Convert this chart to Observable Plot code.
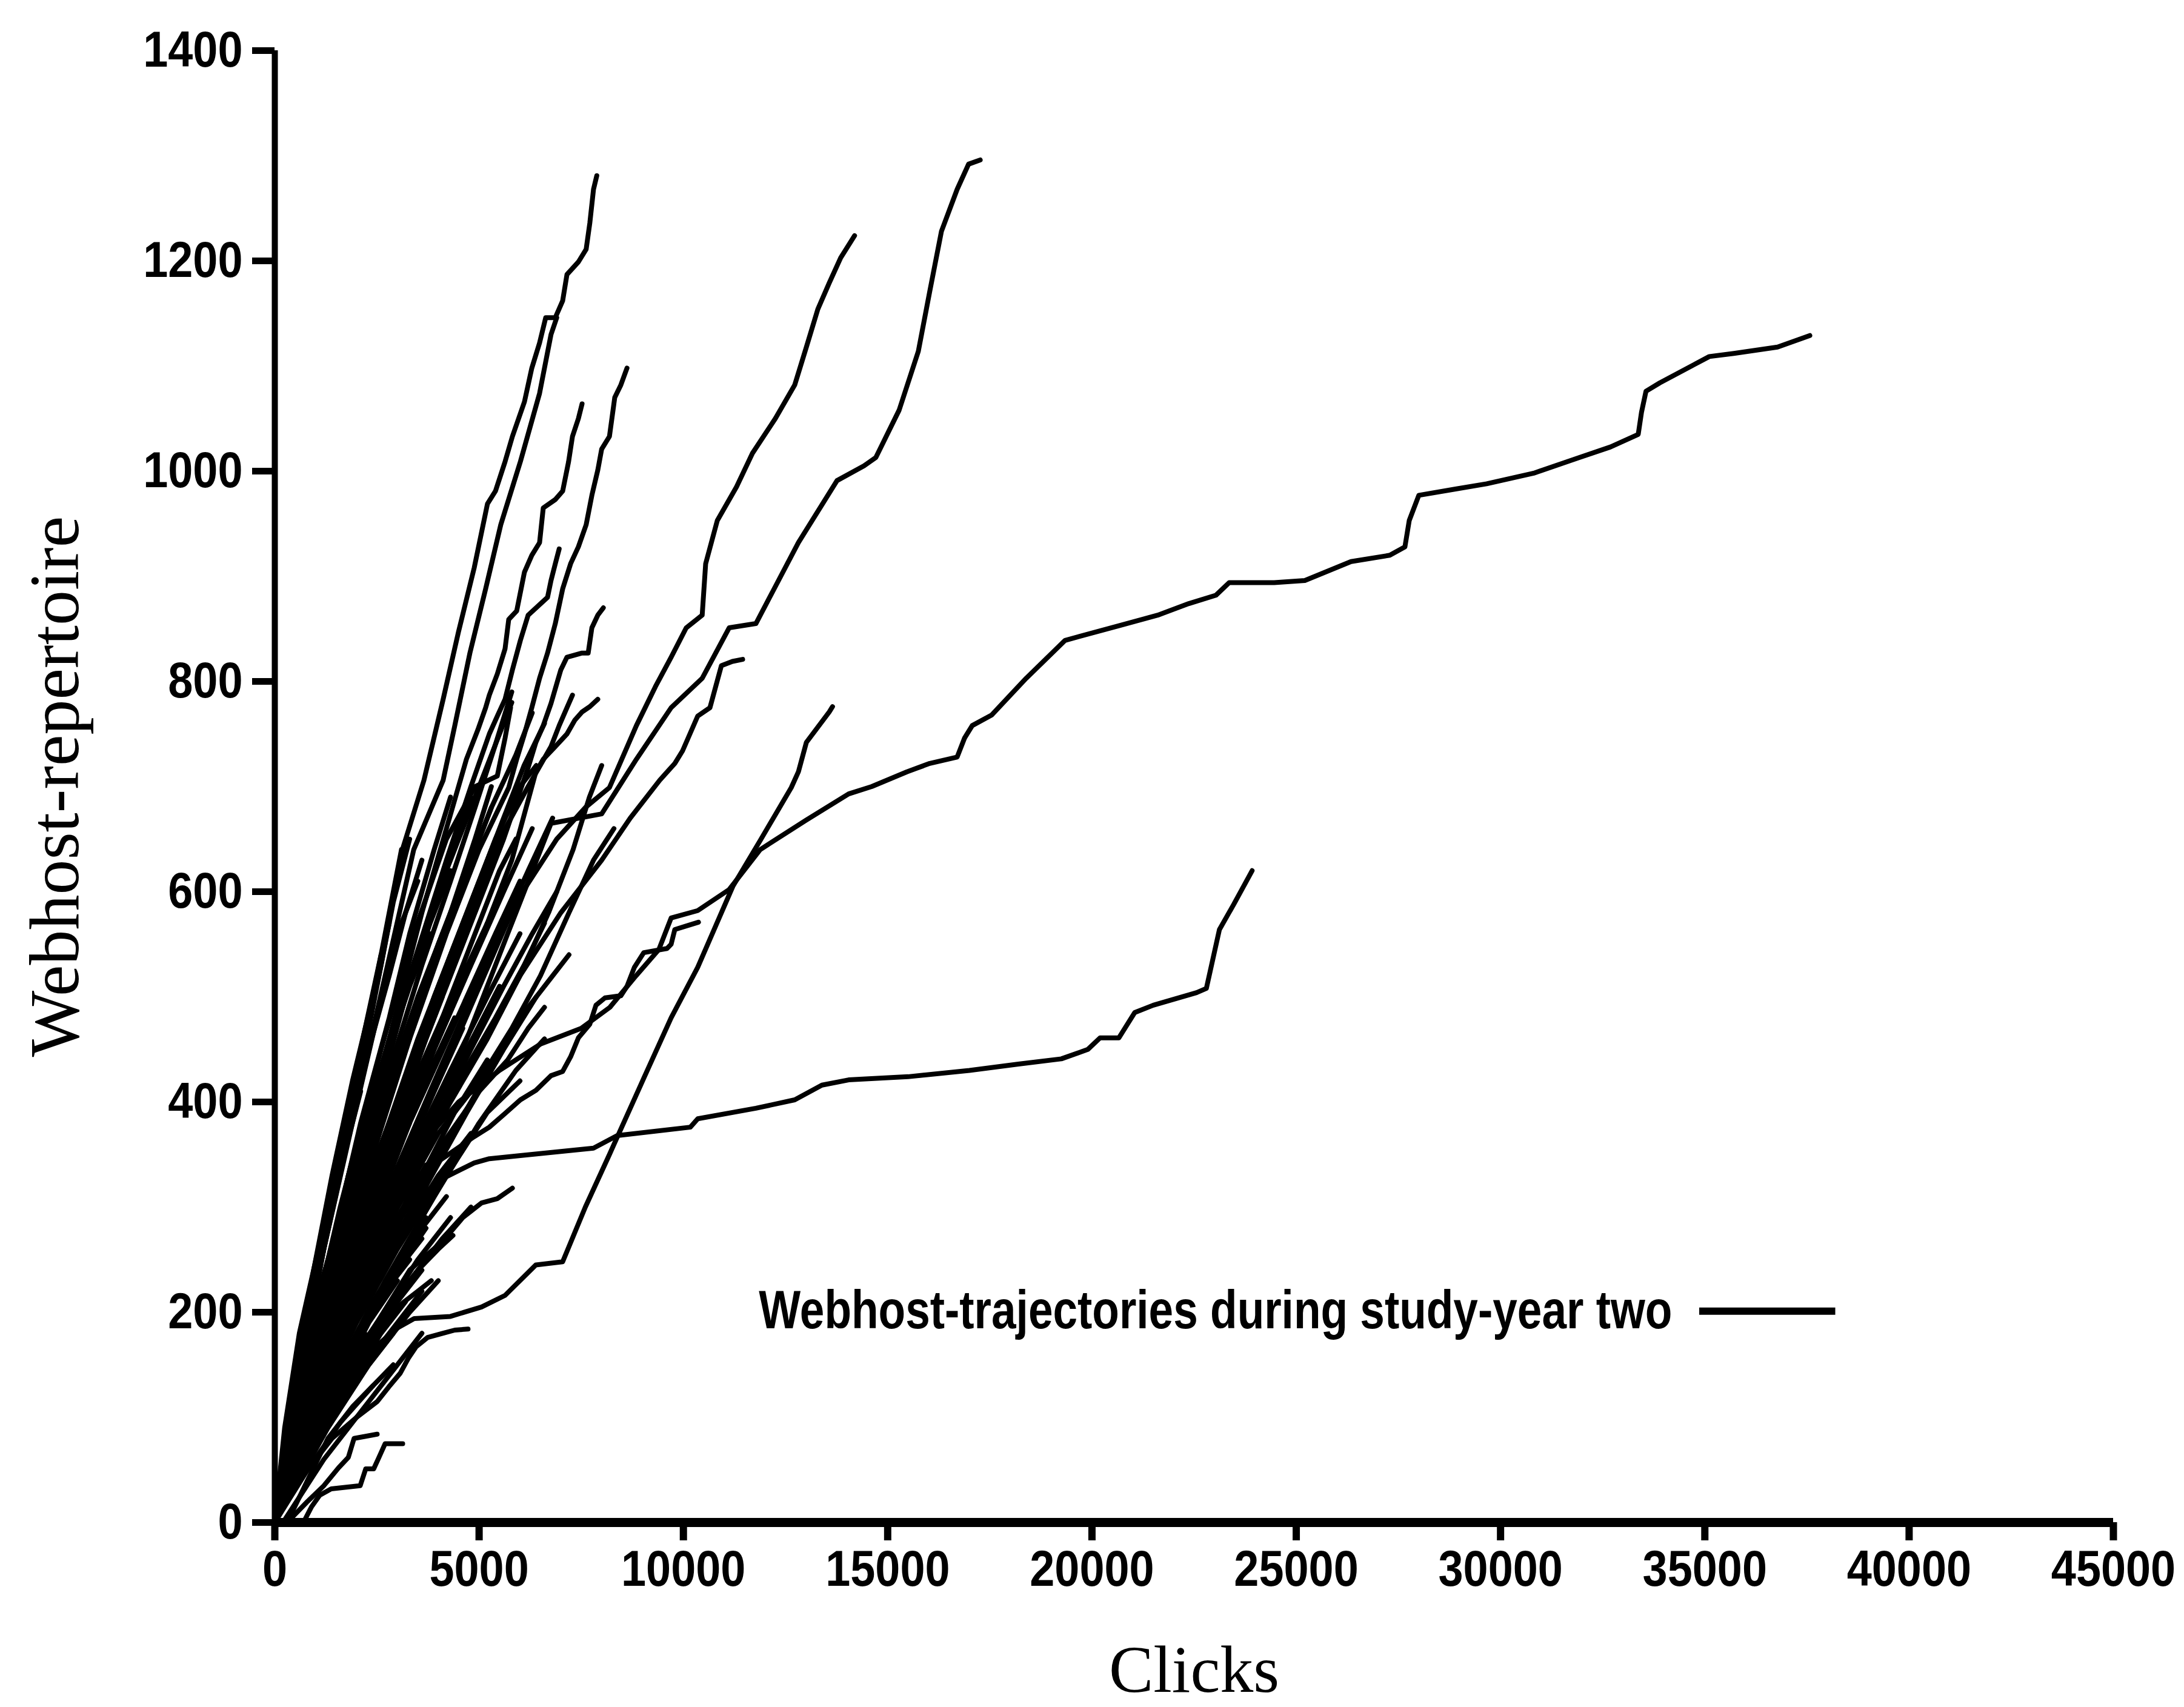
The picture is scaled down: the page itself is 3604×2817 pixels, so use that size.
<!DOCTYPE html>
<html>
<head>
<meta charset="utf-8">
<script src="https://cdn.jsdelivr.net/npm/d3@7"></script>
<script src="https://cdn.jsdelivr.net/npm/@observablehq/plot@0.6"></script>
<style>
  html, body { margin: 0; padding: 0; background: #fff; }
  #chart svg { display: block; }
</style>
</head>
<body>
<div id="chart"></div>
<script>
// Axis ticks
const xTicks = [0, 5000, 10000, 15000, 20000, 25000, 30000, 35000, 40000, 45000];
const yTicks = [0, 200, 400, 600, 800, 1000, 1200, 1400];

const xTitle = "Clicks";
const yTitle = "Webhost-repertoire";
const legendLabel = "Webhost-trajectories during study-year two";

// Each trajectory is a flat list of (clicks, repertoire) pairs.
// Long-running users that leave the main bundle.
const longRuns = [
  [0,0, 900,120, 1800,220, 2700,300, 3600,360, 4500,400, 5500,430, 6500,455, 7500,470, 8200,490, 8840,520, 9400,545, 9700,575, 10350,582, 11120,602, 11880,640, 13000,668, 14045,693, 14610,700, 15470,714, 16030,722, 16700,728, 16880,746, 17070,758, 17545,768, 18390,803, 19340,839, 20660,853, 21610,863, 22370,874, 23035,882, 23360,894, 24460,894, 25210,896, 26340,914, 27290,920, 27660,928, 27765,953, 28000,977, 28900,983, 29660,988, 30810,998, 31930,1013, 32690,1023, 33370,1035, 33450,1056, 33560,1076, 33900,1084, 35110,1109, 35710,1112, 36780,1118, 37570,1129],
  [0,0, 800,90, 1700,180, 2700,280, 3700,370, 4700,460, 5700,560, 6760,665, 8000,674, 8850,726, 9700,775, 10460,803, 11120,851, 11775,855, 12815,932, 13760,991, 14420,1005, 14710,1013, 15280,1058, 15750,1114, 16030,1171, 16315,1228, 16700,1268, 16980,1292, 17265,1296],
  [0,0, 900,110, 1900,220, 2900,320, 3900,410, 4900,500, 5900,590, 6900,650, 7600,680, 8190,699, 8850,758, 9315,795, 9700,823, 10070,851, 10460,863, 10545,912, 10830,953, 11300,985, 11690,1017, 12250,1050, 12725,1082, 13010,1118, 13290,1154, 13570,1179, 13850,1203, 14190,1224],
  [0,0, 1000,110, 2000,210, 3000,300, 4000,380, 5000,450, 6000,520, 7000,580, 8000,630, 8700,670, 9420,706, 9790,722, 9980,734, 10350,767, 10650,775, 10930,815, 11200,819, 11450,821],
  [0,0, 1000,120, 2000,220, 3000,290, 4000,325, 4880,342, 5250,346, 6010,349, 7800,356, 8380,368, 10170,376, 10350,384, 11775,394, 12725,402, 13390,416, 14045,421, 15500,424, 17000,430, 18200,436, 19250,441, 19900,450, 20200,461, 20660,461, 21045,485, 21500,492, 22560,504, 22800,508, 23120,564, 23500,590, 23920,620],
  [0,0, 800,100, 1600,190, 2500,270, 3500,330, 4880,367, 5250,376, 5635,389, 6010,402, 6390,411, 6760,425, 7045,429, 7240,443, 7430,461, 7710,474, 7860,492, 8080,499, 8470,501, 8620,510, 8800,528, 9030,542, 9600,546, 9700,550, 9790,564, 10370,571],
  [0,0, 800,65, 1600,120, 2400,165, 3000,185, 3410,194, 4300,196, 5060,205, 5635,216, 6390,245, 7045,248, 7600,300, 8190,350, 9000,420, 9700,480, 10350,528, 11210,605, 11900,650, 12640,699, 12815,714, 13010,742, 13570,771, 13650,776]
];

// Fast growers that climb past 700 hosts within a few thousand clicks.
const upperFan = [
  [0,0, 240,90, 600,180, 1215,286, 2000,420, 2600,530, 3130,641, 3650,706, 4120,783, 4495,847, 4880,908, 5205,969, 5400,981, 5635,1009, 5815,1033, 6110,1066, 6290,1098, 6480,1122, 6630,1146, 6865,1146, 7045,1162, 7150,1187, 7430,1199, 7620,1211, 7710,1236, 7800,1268, 7880,1281],
  [0,0, 300,90, 700,170, 1300,280, 2000,400, 2700,520, 3400,640, 4120,706, 4405,758, 4775,827, 5160,888, 5530,949, 6010,1009, 6480,1074, 6760,1130, 6900,1146],
  [0,0, 600,110, 1300,230, 2000,340, 2800,460, 3600,580, 4200,660, 4690,726, 4970,754, 5160,775, 5250,787, 5445,807, 5635,831, 5725,859, 5920,867, 6110,904, 6290,920, 6480,932, 6570,965, 6865,973, 7045,981, 7190,1009, 7285,1033, 7430,1050, 7520,1064],
  [0,0, 700,110, 1500,230, 2400,350, 3300,460, 4200,560, 5000,640, 5725,699, 5920,726, 6110,750, 6290,775, 6480,803, 6675,827, 6865,855, 7045,888, 7240,912, 7430,928, 7620,949, 7760,977, 7905,1001, 8000,1021, 8190,1033, 8320,1070, 8470,1082, 8620,1098],
  [0,0, 700,120, 1500,250, 2400,390, 3300,520, 4200,630, 4800,700, 5250,750, 5445,767, 5635,783, 5815,811, 6010,839, 6200,863, 6675,880, 6760,896, 6865,912, 6960,926],
  [0,0, 800,110, 1700,230, 2700,350, 3700,460, 4700,560, 5600,650, 6200,718, 6390,742, 6570,758, 6760,779, 6910,799, 7000,811, 7150,823, 7520,827, 7670,827, 7760,851, 7905,863, 8040,870],
  [0,0, 900,120, 1900,240, 2900,350, 3900,450, 4900,540, 5800,630, 6390,714, 6570,726, 6865,738, 7150,750, 7340,763, 7520,771, 7710,776, 7905,783],
  [0,0, 500,100, 1100,210, 1800,330, 2600,450, 3400,560, 4200,650, 4900,700, 5445,710, 5635,746, 5770,775],
  [0,0, 800,110, 1700,230, 2600,340, 3600,450, 4600,560, 5500,650, 6200,700, 6760,738, 6960,758, 7150,775, 7285,787],
  [0,0, 1000,120, 2000,220, 3000,300, 4000,370, 5000,420, 5800,470, 6500,520, 7200,580, 7800,630, 8300,660],
  [0,0, 1100,130, 2200,240, 3300,330, 4300,400, 5200,460, 6000,520, 6700,580, 7300,640, 7700,690, 8000,720],
  [0,0, 900,110, 1900,210, 2900,300, 3900,380, 4800,450, 5600,510, 6300,560, 6900,600],
  [0,0, 1000,110, 2000,200, 3100,290, 4100,360, 5000,410, 5700,440, 6200,470, 6600,490]
];

// The dense bundle: steeper users.
const steepFan = [
  [0,0, 400,110, 900,210, 1500,330, 2100,450, 2600,540],
  [0,0, 300,80, 800,190, 1400,310, 2000,420, 2700,560, 3100,640],
  [0,0, 500,120, 1100,250, 1700,360, 2300,470, 2900,590, 3300,650],
  [0,0, 350,90, 700,170, 1200,260, 1600,330],
  [0,0, 600,140, 1200,260, 1900,380, 2500,480, 3000,560, 3500,610],
  [0,0, 450,100, 1000,200, 1600,300, 2200,390],
  [0,0, 500,110, 1000,200, 1500,280, 2100,380, 2800,480, 3300,560, 3900,640, 4300,690],
  [0,0, 700,140, 1300,240, 2000,340, 2700,440, 3400,530, 4000,600, 4500,660, 4800,690],
  [0,0, 300,60, 800,150, 1300,230, 1800,300, 2300,350],
  [0,0, 600,110, 1200,210, 1800,300, 2500,400, 3200,500, 3800,570, 4300,620],
  [0,0, 500,90, 1100,180, 1700,260, 2400,350, 3100,440, 3700,510],
  [0,0, 800,140, 1500,240, 2200,330, 2900,420, 3600,500, 4300,580, 4900,650, 5300,700],
  [0,0, 400,70, 1000,160, 1600,240, 2300,320, 3000,400, 3700,470, 4400,540, 5000,600],
  [0,0, 700,110, 1400,200, 2100,290, 2800,370, 3500,440, 4100,500],
  [0,0, 600,90, 1300,180, 2000,260, 2700,340, 3400,410, 4100,480, 4800,550, 5500,620, 5900,650],
  [0,0, 900,130, 1700,230, 2500,320, 3300,400, 4000,460],
  [0,0, 500,70, 1200,160, 1900,240, 2600,310, 3300,380, 4000,440, 4700,500, 5400,560, 6000,610],
  [0,0, 800,110, 1600,200, 2400,280, 3200,350, 3900,410, 4600,470],
  [0,0, 700,90, 1500,180, 2300,250, 3100,320, 3900,390, 4700,450, 5500,510],
  [0,0, 1000,120, 2000,220, 3000,300, 3800,360],
  [0,0, 900,100, 1800,190, 2700,260, 3600,330, 4400,390, 5200,440],
  [0,0, 600,70, 1400,150, 2200,220, 3000,290, 3700,340],
  [0,0, 1000,110, 2000,190, 3000,260, 3800,310, 4600,360],
  [0,0, 800,80, 1600,150, 2400,210, 3200,260, 3700,290],
  [0,0, 1100,100, 2100,180, 3000,240, 3700,280],
  [0,0, 700,60, 1500,130, 2300,190, 3000,230],
  [0,0, 1200,90, 2200,160, 3000,210, 3600,240],
  [0,0, 900,70, 1800,130, 2600,180, 3200,210],
  [0,0, 1300,90, 2300,150, 2900,180],
  [0,0, 600,50, 1300,100, 2000,140, 2500,165],
  [0,0, 500,60, 1100,110, 1700,150, 2200,180],
  [0,0, 400,50, 900,90, 1400,130, 1900,160],
  [300,0, 800,40, 1300,80, 1900,110, 2400,130],
  [0,0, 350,60, 800,120, 1200,170, 1500,200],
  [0,0, 250,70, 600,140, 1000,210, 1300,250],
  [0,0, 200,60, 500,120, 900,190, 1200,230],
  [0,0, 300,70, 700,150, 1100,220, 1500,280, 1900,340],
  [0,0, 250,80, 550,150, 900,220, 1300,290, 1700,350, 2100,410],
  [0,0, 200,70, 500,140, 900,230, 1400,330, 1900,420, 2400,500, 2800,570],
  [0,0, 350,90, 800,180, 1300,280, 1800,370, 2300,450, 2800,520, 3200,580, 3600,630],
  [0,0, 450,100, 1000,190, 1600,290, 2200,380, 2800,460, 3400,530, 3900,590, 4400,640, 4900,690, 5400,740, 5800,780],
  [0,0, 700,130, 1400,230, 2100,330, 2800,420, 3500,500, 4200,570, 4800,630, 5300,680]
];

// The core of the bundle, where most users stop below 500 hosts.
const coreFan = [
  [0,0, 500,70, 1000,130, 1600,190, 2200,250, 2800,300],
  [0,0, 600,80, 1200,150, 1800,210, 2400,260, 3000,300, 3400,330],
  [0,0, 700,90, 1400,170, 2100,240, 2800,300, 3400,350, 3900,390],
  [0,0, 500,80, 1100,160, 1700,230, 2300,290, 2900,340],
  [0,0, 800,100, 1600,190, 2400,270, 3200,340, 4000,400, 4500,430],
  [0,0, 400,60, 900,120, 1500,190, 2100,250, 2700,300, 3200,340],
  [0,0, 600,90, 1300,180, 2000,260, 2700,330, 3300,380],
  [0,0, 900,110, 1800,210, 2700,290, 3500,350, 4200,400],
  [0,0, 700,100, 1500,200, 2300,290, 3100,370, 3800,430, 4400,480],
  [0,0, 500,90, 1100,180, 1800,270, 2500,350, 3200,420, 3800,480],
  [0,0, 1000,100, 2000,180, 2900,240, 3600,280, 4200,310],
  [0,0, 800,90, 1700,170, 2600,240, 3400,300, 4100,350],
  [0,0, 1100,120, 2200,210, 3200,280, 4000,330, 4800,370],
  [0,0, 600,100, 1300,200, 2000,290, 2700,370, 3400,440, 4000,500],
  [0,0, 400,80, 900,160, 1500,250, 2100,330, 2700,400, 3300,460],
  [0,0, 300,70, 700,140, 1200,220, 1700,290, 2200,350, 2700,410],
  [0,0, 1300,110, 2500,190, 3500,250, 4300,290],
  [0,0, 1200,100, 2300,170, 3300,230, 4100,270, 4800,300],
  [0,0, 900,90, 1900,170, 2800,230, 3600,270],
  [0,0, 700,110, 1500,220, 2300,310, 3100,390, 3900,460, 4600,520, 5200,570],
  [0,0, 600,120, 1300,240, 2000,350, 2700,440, 3300,510, 3800,560],
  [0,0, 800,120, 1600,230, 2500,330, 3300,410, 4100,480, 4700,530],
  [0,0, 1000,100, 1900,170, 2700,220, 3300,250],
  [0,0, 500,50, 1100,100, 1800,150, 2500,190, 3100,220]
];

// The dense bundle: slower-growing users.
const broadFan = [
  [0,0, 600,110, 1300,220, 2000,320, 2800,430, 3600,530, 4300,610, 4900,680, 5400,740, 5800,790],
  [0,0, 800,130, 1600,250, 2400,360, 3200,460, 4000,550, 4700,620, 5300,680, 5900,730, 6300,770],
  [0,0, 700,110, 1500,220, 2300,320, 3100,410, 3900,500, 4700,580, 5400,650, 6000,700, 6400,720],
  [0,0, 900,140, 1800,260, 2700,370, 3500,460, 4300,540, 5000,610, 5600,670, 6100,720, 6600,760],
  [0,0, 1000,140, 2000,260, 3000,360, 3900,450, 4800,530, 5600,600, 6300,660],
  [0,0, 900,120, 1800,220, 2800,320, 3800,410, 4700,490, 5500,560, 6200,620, 6800,670],
  [0,0, 1100,140, 2200,250, 3300,350, 4300,430, 5200,500, 6000,560],
  [0,0, 1200,140, 2400,250, 3500,340, 4500,420, 5400,480, 6100,530, 6600,570],
  [0,0, 1200,130, 2400,230, 3500,310, 4500,380, 5400,440, 6200,490, 6800,520, 7200,540],
  [0,0, 1300,140, 2600,240, 3700,320, 4700,390, 5600,450, 6400,500],
  [0,0, 1400,130, 2700,230, 3900,310, 5000,380, 5900,430, 6600,460],
  [0,0, 1500,140, 3000,250, 4200,330, 5200,390, 6000,420],
  [0,0, 1000,80, 2000,140, 3000,190, 3600,220],
  [0,0, 1200,90, 2300,150, 3300,200, 4000,230],
  [200,0, 1200,60, 2200,110, 3000,150, 3600,180],
  [0,0, 800,50, 1600,95, 2400,130, 2900,150]
];

// Lowest edge of the bundle.
const lowEdge = [
  [0,0, 800,70, 1600,130, 2500,190, 3300,240, 4120,268, 4405,281, 4600,290, 5060,304, 5445,308, 5815,318],
  [0,0, 700,45, 1400,80, 2000,100, 2505,115, 2790,129, 3070,142, 3265,156, 3455,167, 3740,176, 4120,180, 4405,183, 4730,184],
  [700,0, 900,15, 1100,26, 1380,32, 2090,35, 2225,51, 2420,51, 2550,62, 2700,75, 3130,75],
  [300,0, 800,20, 1200,35, 1560,52, 1800,62, 1940,80, 2225,82, 2505,84],
  [0,0, 800,70, 1600,130, 2400,180, 3000,205, 3500,220, 3830,230],
  [0,0, 900,80, 1800,150, 2700,200, 3500,240, 4000,260, 4360,273]
];

// Flatten every trajectory into rows for Plot.line, one z-group per user.
const rows = [];
let uid = 0;
for (const group of [longRuns, upperFan, steepFan, coreFan, broadFan, lowEdge]) {
  for (const t of group) {
    for (let i = 0; i < t.length; i += 2) rows.push({user: uid, clicks: t[i], hosts: t[i + 1]});
    uid++;
  }
}

const sansBold = "'Liberation Sans', Arial, Helvetica, sans-serif";
const serif = "'Liberation Serif', 'Times New Roman', Times, serif";
const tickFontSize = 83;
const legendFontSize = 89;

// Legend placement (data units on the chart's own scales)
const legendY = 201;
const legendTextEnd = 34200;
const legendSwatch = [34870, 38200];

const chart = Plot.plot({
  width: 3604,
  height: 2817,
  marginLeft: 453,
  marginRight: 117,
  marginTop: 83,
  marginBottom: 305,
  style: {background: "white", color: "black"},
  x: {domain: [0, 45000]},
  y: {domain: [0, 1400]},
  marks: [
    Plot.line(rows, {x: "clicks", y: "hosts", z: "user", stroke: "black", strokeWidth: 8, strokeLinejoin: "round", strokeLinecap: "round"}),
    Plot.ruleY([0], {x1: 0, x2: 45000, stroke: "black", strokeWidth: 15}),
    Plot.ruleX([0], {y1: 0, y2: 1400, stroke: "black", strokeWidth: 10}),
    Plot.axisX({ticks: xTicks, tickFormat: "d", tickSize: 30, tickPadding: 16, strokeWidth: 12,
      fontSize: tickFontSize, fontWeight: "bold", fontFamily: sansBold, label: null}),
    Plot.axisY({ticks: yTicks, tickFormat: "d", tickSize: 37, tickPadding: 16, strokeWidth: 11,
      fontSize: tickFontSize, fontWeight: "bold", fontFamily: sansBold, label: null}),
    Plot.text([xTitle], {text: d => d, frameAnchor: "bottom", dy: 279, lineAnchor: "bottom",
      fontFamily: serif, fontSize: 110, fill: "black"}),
    Plot.text([yTitle], {text: d => d, frameAnchor: "left", rotate: -90, dx: -325, lineAnchor: "bottom",
      textAnchor: "middle", fontFamily: serif, fontSize: 116, fill: "black"}),
    Plot.text([legendLabel], {text: d => d, x: legendTextEnd, y: legendY, textAnchor: "end",
      fontFamily: sansBold, fontWeight: "bold", fontSize: legendFontSize, fill: "black"}),
    Plot.ruleY([legendY], {x1: legendSwatch[0], x2: legendSwatch[1], stroke: "black", strokeWidth: 12})
  ]
});

document.getElementById("chart").append(chart);

// The labels are set in a narrow bold face: squeeze the bold sans horizontally.
function condense(fontSize, factor) {
  chart.querySelectorAll(`g[font-size="${fontSize}"] text`).forEach(t => {
    const w = t.getComputedTextLength();
    t.setAttribute("textLength", (w * factor).toFixed(1));
    t.setAttribute("lengthAdjust", "spacingAndGlyphs");
  });
}
condense(tickFontSize, 0.89);
condense(legendFontSize, 0.82);
</script>
</body>
</html>
